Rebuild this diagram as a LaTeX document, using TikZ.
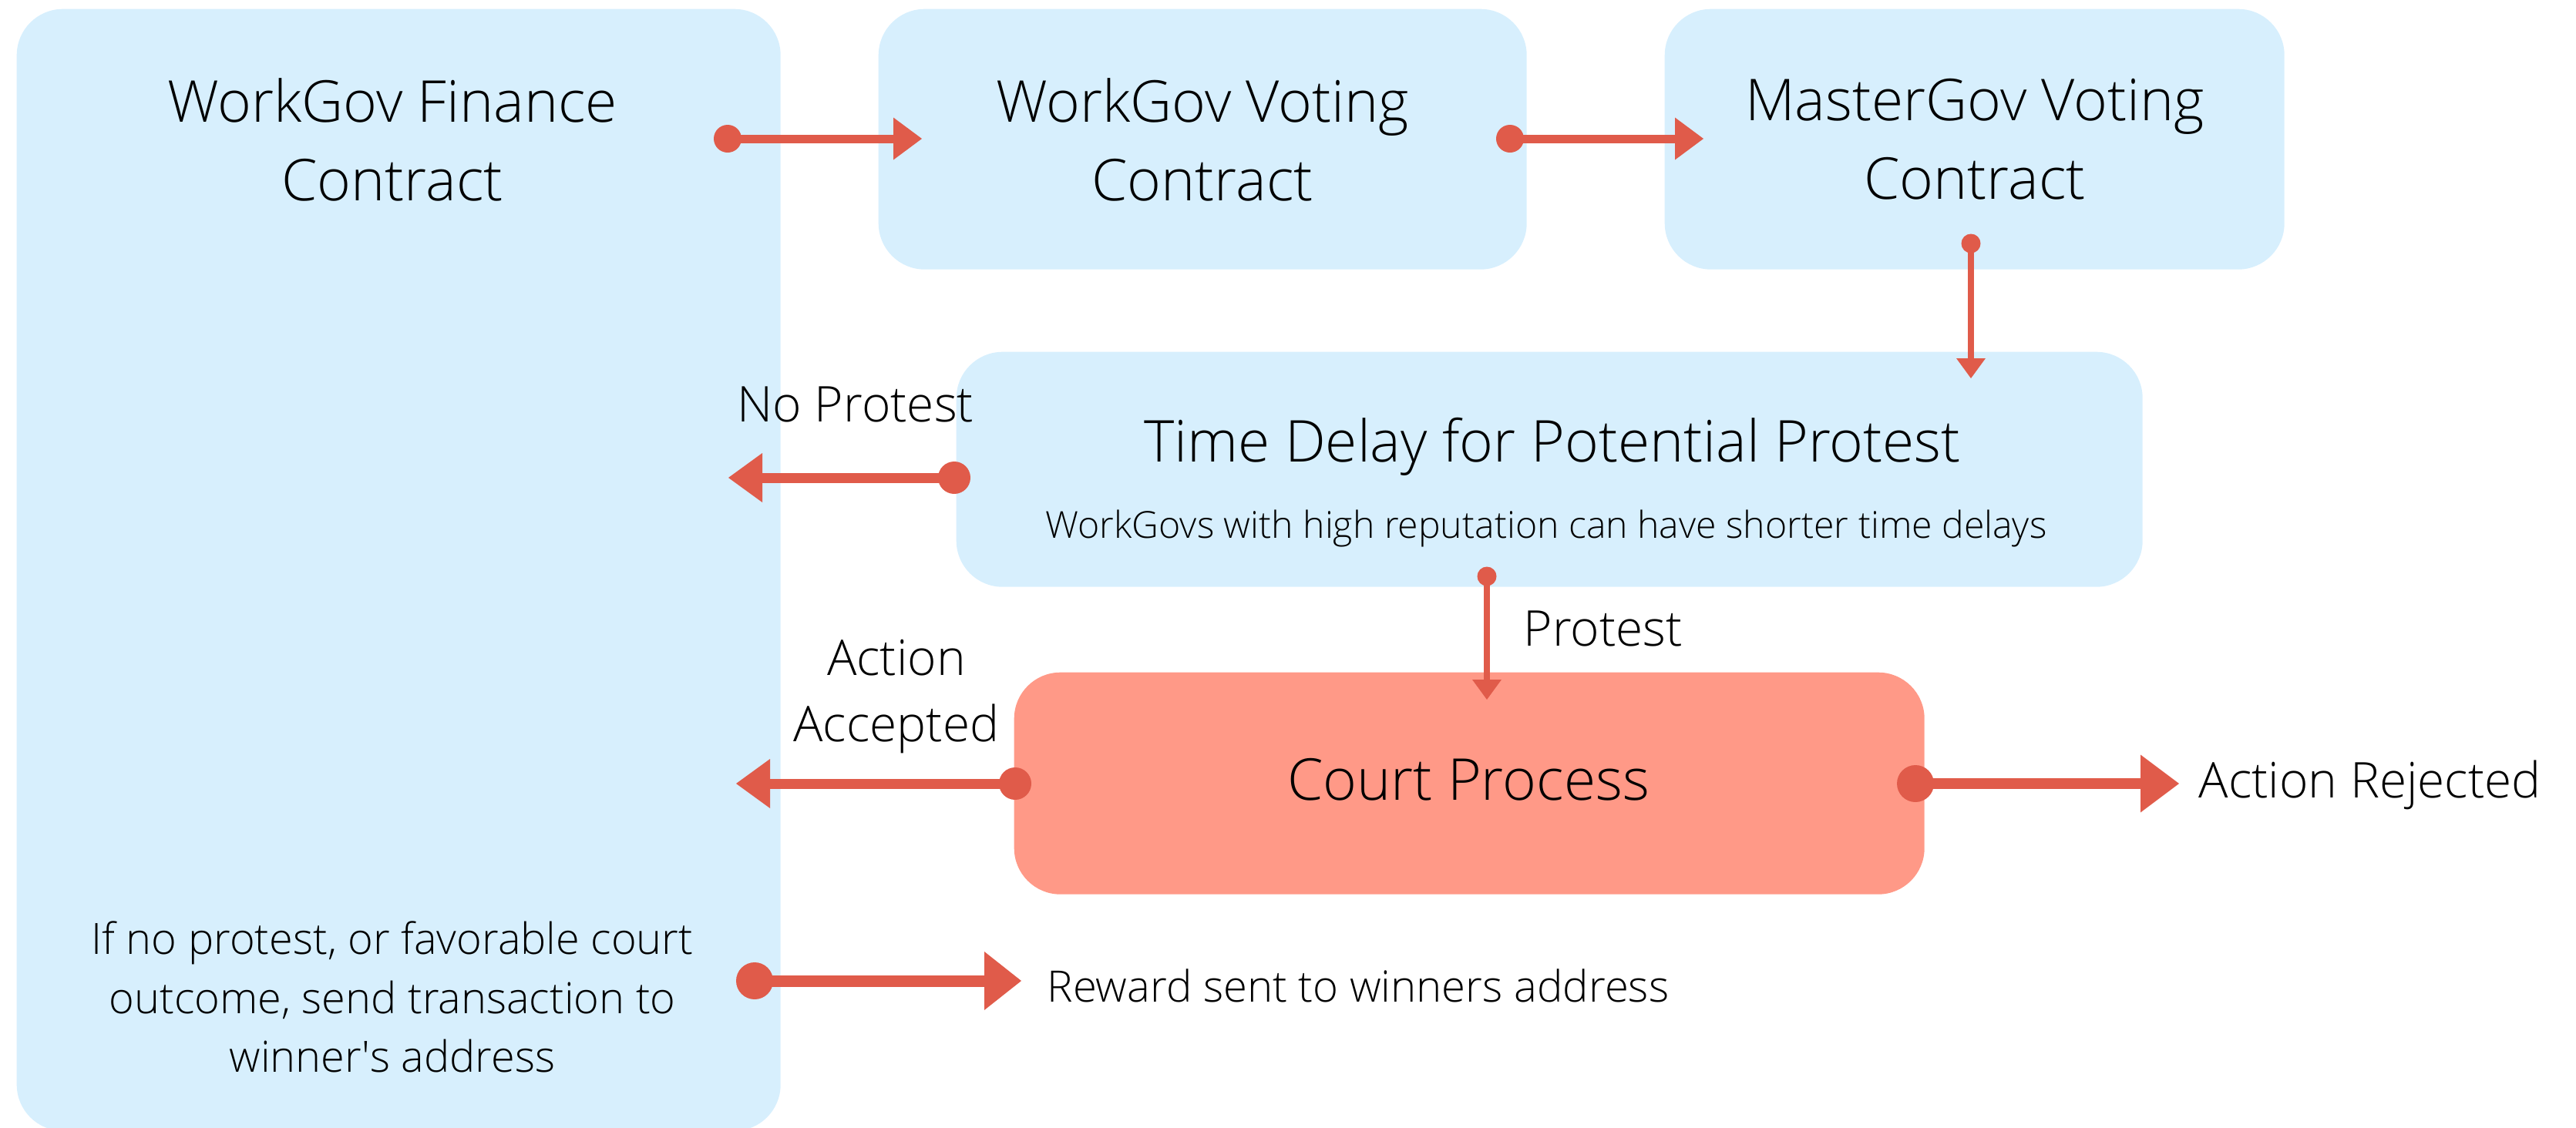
\documentclass[tikz,border=0pt]{standalone}
\usepackage{fontspec}
\IfFontExistsTF{Open Sans Light}{\setmainfont{Open Sans Light}}{\setmainfont{Open Sans}}
\usetikzlibrary{arrows.meta}
\definecolor{boxblue}{RGB}{215,239,253}
\definecolor{courtred}{RGB}{255,153,135}
\definecolor{arrred}{RGB}{224,91,74}
\tikzset{
  box/.style={fill=boxblue, draw=none, rounded corners=0.6cm, inner sep=0pt, anchor=north west},
  courtbox/.style={fill=courtred, draw=none, rounded corners=0.6cm, inner sep=0pt, anchor=north west},
  txt/.style={inner sep=0pt, align=center, text=black},
  title/.style={txt, font=\fontsize{21.3}{29}\selectfont},
  lbl/.style={txt, font=\fontsize{18.2}{24.7}\selectfont},
  conn/.style={draw=arrred, line width=#1},
  dotfill/.style={fill=arrred},
}
\begin{document}
\begin{tikzpicture}
\path[use as bounding box] (0,0) rectangle (33.42,-14.63);
% boxes
\node[box, minimum width=9.91cm, minimum height=14.56cm] (fin) at (0.21,-0.11) {};
\node[box, minimum width=8.41cm, minimum height=3.38cm] (wv) at (11.39,-0.11) {};
\node[box, minimum width=8.04cm, minimum height=3.38cm] (mv) at (21.59,-0.11) {};
\node[box, minimum width=15.39cm, minimum height=3.05cm] (td) at (12.40,-4.56) {};
\node[courtbox, minimum width=11.81cm, minimum height=2.88cm] (court) at (13.15,-8.72) {};
% texts
\node[title] (finT) at (5.09,-1.81) {WorkGov Finance\\Contract};
\node[title] (wvT) at (15.60,-1.81) {WorkGov Voting\\Contract};
\node[title] (mvT) at (25.62,-1.81) {MasterGov Voting\\Contract};
\node[title] (tdT) at (20.14,-5.80) {Time Delay for Potential Protest};
\node[txt, font=\fontsize{13.7}{18}\selectfont] (tdS) at (20.06,-6.86) {WorkGovs with high reputation can have shorter time delays};
\node[title] (courtT) at (19.05,-10.12) {Court Process};
\node[lbl] (noP) at (11.10,-5.25) {No Protest};
\node[lbl] (accL) at (11.63,-9.04) {Action\\Accepted};
\node[lbl, anchor=west] (protL) at (19.76,-8.16) {Protest};
\node[lbl, anchor=west] (rejL) at (28.52,-10.19) {Action Rejected};
\node[txt, font=\fontsize{15.9}{21.8}\selectfont] (finB) at (5.09,-12.94) {If no protest, or favorable court\\outcome, send transaction to\\winner\textquotesingle s address};
\node[txt, font=\fontsize{16}{20}\selectfont, anchor=west] (rewL) at (13.58,-12.79) {Reward sent to winners address};
% connector end points
\coordinate (a1s) at (9.44,-1.80);  \coordinate (a1e) at (11.96,-1.80);
\coordinate (a2s) at (19.59,-1.80); \coordinate (a2e) at (22.10,-1.80);
\coordinate (a3s) at (25.57,-3.16); \coordinate (a3e) at (25.57,-4.91);
\coordinate (a4s) at (12.38,-6.20); \coordinate (a4e) at (9.45,-6.20);
\coordinate (a5s) at (19.29,-7.48); \coordinate (a5e) at (19.29,-9.08);
\coordinate (a6s) at (13.17,-10.17); \coordinate (a6e) at (9.55,-10.17);
\coordinate (a7s) at (24.85,-10.17); \coordinate (a7e) at (28.27,-10.17);
\coordinate (a8s) at (9.79,-12.73); \coordinate (a8e) at (13.25,-12.73);
% connectors
\draw[conn=0.11cm, -{Triangle[length=0.37cm,width=0.55cm,line width=0pt]}] (a1s) -- (a1e);
\fill[dotfill] (a1s) circle (0.18);
\draw[conn=0.11cm, -{Triangle[length=0.37cm,width=0.55cm,line width=0pt]}] (a2s) -- (a2e);
\fill[dotfill] (a2s) circle (0.18);
\draw[conn=0.077cm, -{Triangle[length=0.26cm,width=0.38cm,line width=0pt]}] (a3s) -- (a3e);
\fill[dotfill] (a3s) circle (0.125);
\draw[conn=0.13cm, -{Triangle[length=0.44cm,width=0.64cm,line width=0pt]}] (a4s) -- (a4e);
\fill[dotfill] (a4s) circle (0.21);
\draw[conn=0.077cm, -{Triangle[length=0.26cm,width=0.38cm,line width=0pt]}] (a5s) -- (a5e);
\fill[dotfill] (a5s) circle (0.125);
\draw[conn=0.13cm, -{Triangle[length=0.44cm,width=0.64cm,line width=0pt]}] (a6s) -- (a6e);
\fill[dotfill] (a6s) circle (0.21);
\draw[conn=0.14cm, -{Triangle[length=0.50cm,width=0.75cm,line width=0pt]}] (a7s) -- (a7e);
\fill[dotfill] (a7s) circle (0.24);
\draw[conn=0.15cm, -{Triangle[length=0.48cm,width=0.76cm,line width=0pt]}] (a8s) -- (a8e);
\fill[dotfill] (a8s) circle (0.24);
\end{tikzpicture}
\end{document}
